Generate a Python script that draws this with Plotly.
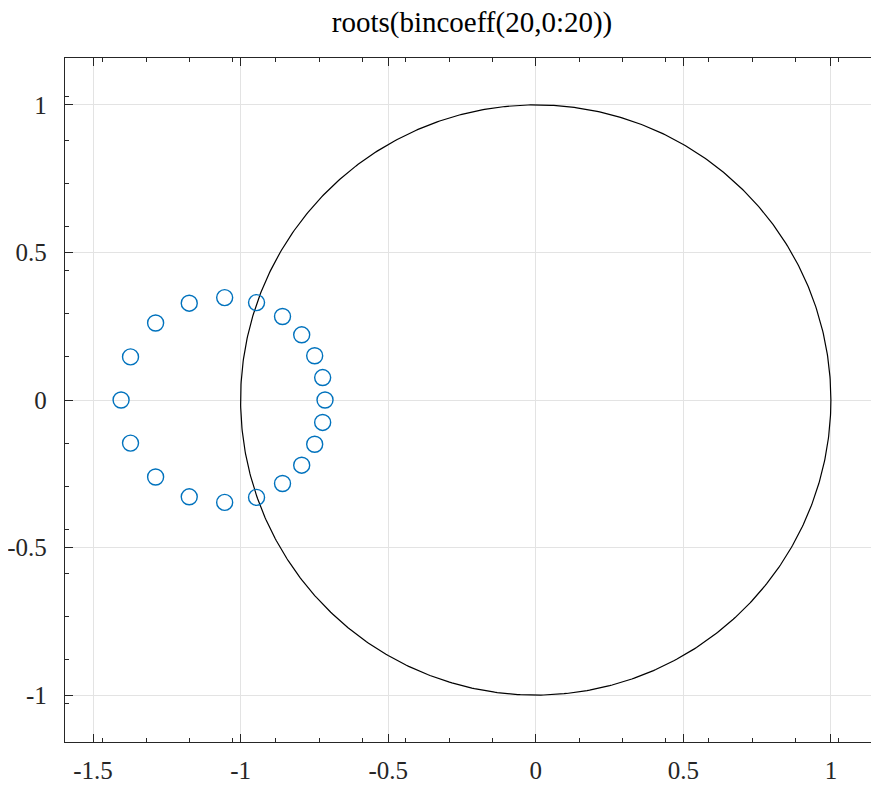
import numpy as np
import plotly.graph_objects as go

# Roots (upper half; lower half = conjugates)
roots_re_upper = [-1.405, -1.373, -1.288, -1.174, -1.054, -0.946, -0.858, -0.793, -0.749, -0.722, -0.714]
roots_im_upper = [0.0, 0.146, 0.261, 0.328, 0.347, 0.330, 0.283, 0.221, 0.150, 0.076, 0.0]

roots_re = roots_re_upper + roots_re_upper[1:-1]
roots_im = roots_im_upper + [-v for v in roots_im_upper[1:-1]]

x_tickvals = [-1.5, -1, -0.5, 0, 0.5, 1]
x_ticktext = ["-1.5", "-1", "-0.5", "0", "0.5", "1"]
y_tickvals = [-1, -0.5, 0, 0.5, 1]
y_ticktext = ["-1", "-0.5", "0", "0.5", "1"]

theta = np.linspace(0, 2 * np.pi, 721)
circ_x = np.cos(theta)
circ_y = np.sin(theta)

fig = go.Figure()
fig.add_trace(go.Scatter(x=circ_x, y=circ_y, mode="lines",
                         line=dict(color="black", width=1.2), hoverinfo="skip"))
fig.add_trace(go.Scatter(x=roots_re, y=roots_im, mode="markers",
                         marker=dict(symbol="circle-open", size=16, color="#0072BD",
                                     line=dict(width=1.4, color="#0072BD"))))

axis_common = dict(
    automargin=False,
    showline=True, linecolor="#262626", linewidth=1.3, mirror="allticks",
    ticks="inside", ticklen=8, tickwidth=1.3, tickcolor="#262626",
    showgrid=True, gridcolor="#e3e3e3", gridwidth=1,
    zeroline=False,
    tickfont=dict(family="Liberation Serif", size=25, color="#262626"),
    minor=dict(ticks="inside", ticklen=4, tickwidth=1, tickcolor="#262626",
               tick0=0, dtick=0.1467, showgrid=False),
)

fig.update_xaxes(range=[-1.595, 1.163], tickvals=x_tickvals, ticktext=x_ticktext,
                 ticklabelstandoff=6, **axis_common)
fig.update_yaxes(range=[-1.159, 1.159], tickvals=y_tickvals, ticktext=y_ticktext,
                 ticklabelstandoff=12, **axis_common)

# page body has an 8px default margin, so the figure is 8px smaller
fig.update_layout(
    template="none",
    width=871, height=777,
    margin=dict(l=57, r=0, t=50, b=43, pad=0, autoexpand=False),
    paper_bgcolor="white", plot_bgcolor="white",
    showlegend=False,
    title=dict(text="roots(bincoeff(20,0:20))", x=0.5, xref="paper", xanchor="center",
               y=1 - 14 / 777, yanchor="middle", yref="container",
               font=dict(family="Liberation Serif", size=29, color="black")),
)

fig.write_html("out.html")
